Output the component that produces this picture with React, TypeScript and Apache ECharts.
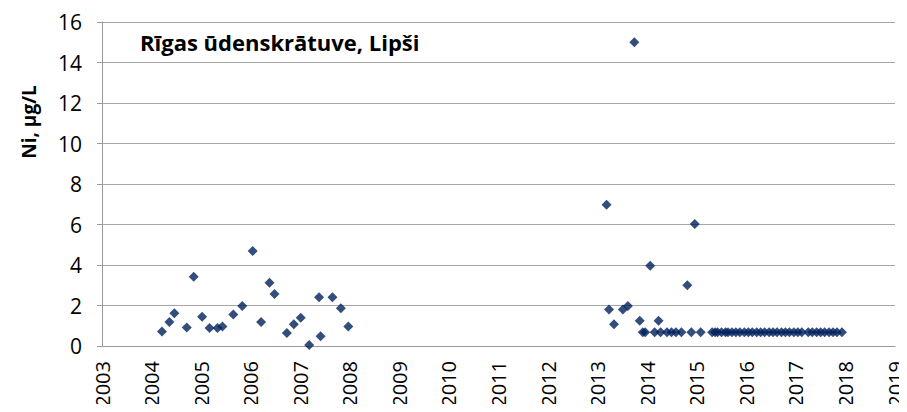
import React, { useEffect, useRef } from "react";
import * as echarts from "echarts";

const xYears: number[] = [
  2004.21, 2004.36, 2004.46, 2004.71, 2004.85, 2005.02, 2005.17, 2005.33, 2005.43, 2005.65,
  2005.83, 2006.04, 2006.21, 2006.38, 2006.48, 2006.73, 2006.87, 2007.01, 2007.18, 2007.38,
  2007.41, 2007.65, 2007.82, 2007.97,
  2013.18, 2013.23, 2013.33, 2013.51, 2013.61, 2013.74, 2013.85, 2013.91, 2013.96, 2014.06,
  2014.15, 2014.23, 2014.27, 2014.40, 2014.49, 2014.58, 2014.69, 2014.81, 2014.89, 2014.96,
  2015.08,
  2015.31, 2015.37, 2015.42, 2015.50, 2015.58, 2015.63, 2015.71, 2015.79, 2015.87, 2015.96,
  2016.04, 2016.12, 2016.21, 2016.29, 2016.37, 2016.46, 2016.54, 2016.62, 2016.71, 2016.79,
  2016.87, 2016.96, 2017.04, 2017.12, 2017.25, 2017.33, 2017.42, 2017.50, 2017.58, 2017.67,
  2017.75, 2017.83, 2017.93,
];

const niValues: number[] = [
  0.71, 1.19, 1.62, 0.91, 3.42, 1.44, 0.89, 0.89, 0.96, 1.55,
  1.97, 4.69, 1.19, 3.12, 2.57, 0.64, 1.07, 1.39, 0.05, 2.41,
  0.48, 2.41, 1.87, 0.96,
  6.98, 1.8, 1.07, 1.8, 1.98, 15.0, 1.25, 0.68, 0.68, 3.96,
  0.68, 1.25, 0.68, 0.68, 0.68, 0.68, 0.68, 3.0, 0.68, 6.02,
  0.68,
  0.68, 0.68, 0.68, 0.68, 0.68, 0.68, 0.68, 0.68, 0.68, 0.68,
  0.68, 0.68, 0.68, 0.68, 0.68, 0.68, 0.68, 0.68, 0.68, 0.68,
  0.68, 0.68, 0.68, 0.68, 0.68, 0.68, 0.68, 0.68, 0.68, 0.68,
  0.68, 0.68, 0.68,
];

const titleText = "Rīgas ūdenskrātuve, Lipši";
const yAxisTitle = "Ni, µg/L";

export default function App() {
  const ref = useRef<HTMLDivElement>(null);
  useEffect(() => {
    if (!ref.current) return;
    const chart = echarts.init(ref.current, undefined, { renderer: "svg" });
    const font = "'Open Sans', 'Noto Sans', sans-serif";
    chart.setOption({
      animation: false,
      backgroundColor: "#ffffff",
      grid: { left: 102, right: 12, top: 22, bottom: 66 },
      xAxis: {
        type: "value",
        min: 2003,
        max: 2019,
        interval: 1,
        axisLine: { show: true, onZero: false, lineStyle: { color: "#9a9a9a", width: 1 } },
        axisTick: { show: false },
        splitLine: { show: false },
        axisLabel: {
          rotate: 90,
          margin: 15,
          color: "#000",
          fontSize: 20,
          lineHeight: 20,
          fontFamily: font,
          formatter: (v: number) => String(v),
        },
      },
      yAxis: {
        type: "value",
        min: 0,
        max: 16,
        interval: 2,
        axisLine: { show: true, lineStyle: { color: "#9a9a9a", width: 1 } },
        axisTick: { show: true, length: 5, lineStyle: { color: "#9a9a9a" } },
        splitLine: { show: true, lineStyle: { color: "#a6a6a6", width: 1 } },
        axisLabel: {
          margin: 20,
          color: "#000",
          fontSize: 21,
          fontFamily: font,
        },
      },
      graphic: [
        {
          type: "text",
          left: 140,
          top: 31,
          style: {
            text: titleText,
            font: `bold 22px ${font}`,
            fill: "#000",
          },
        },
        {
          type: "text",
          x: 29,
          y: 122,
          rotation: Math.PI / 2,
          style: {
            text: yAxisTitle,
            font: `bold 19px ${font}`,
            fill: "#000",
            align: "center",
            verticalAlign: "middle",
          },
        },
      ],
      series: [
        {
          type: "scatter",
          symbol: "diamond",
          symbolSize: 10,
          itemStyle: { color: "#00205C" },
          data: xYears.map((x, i) => [x, niValues[i]]),
        },
      ],
    });
    return () => chart.dispose();
  }, []);
  return <div ref={ref} style={{ width: 907, height: 412, margin: -8 }} />;
}
